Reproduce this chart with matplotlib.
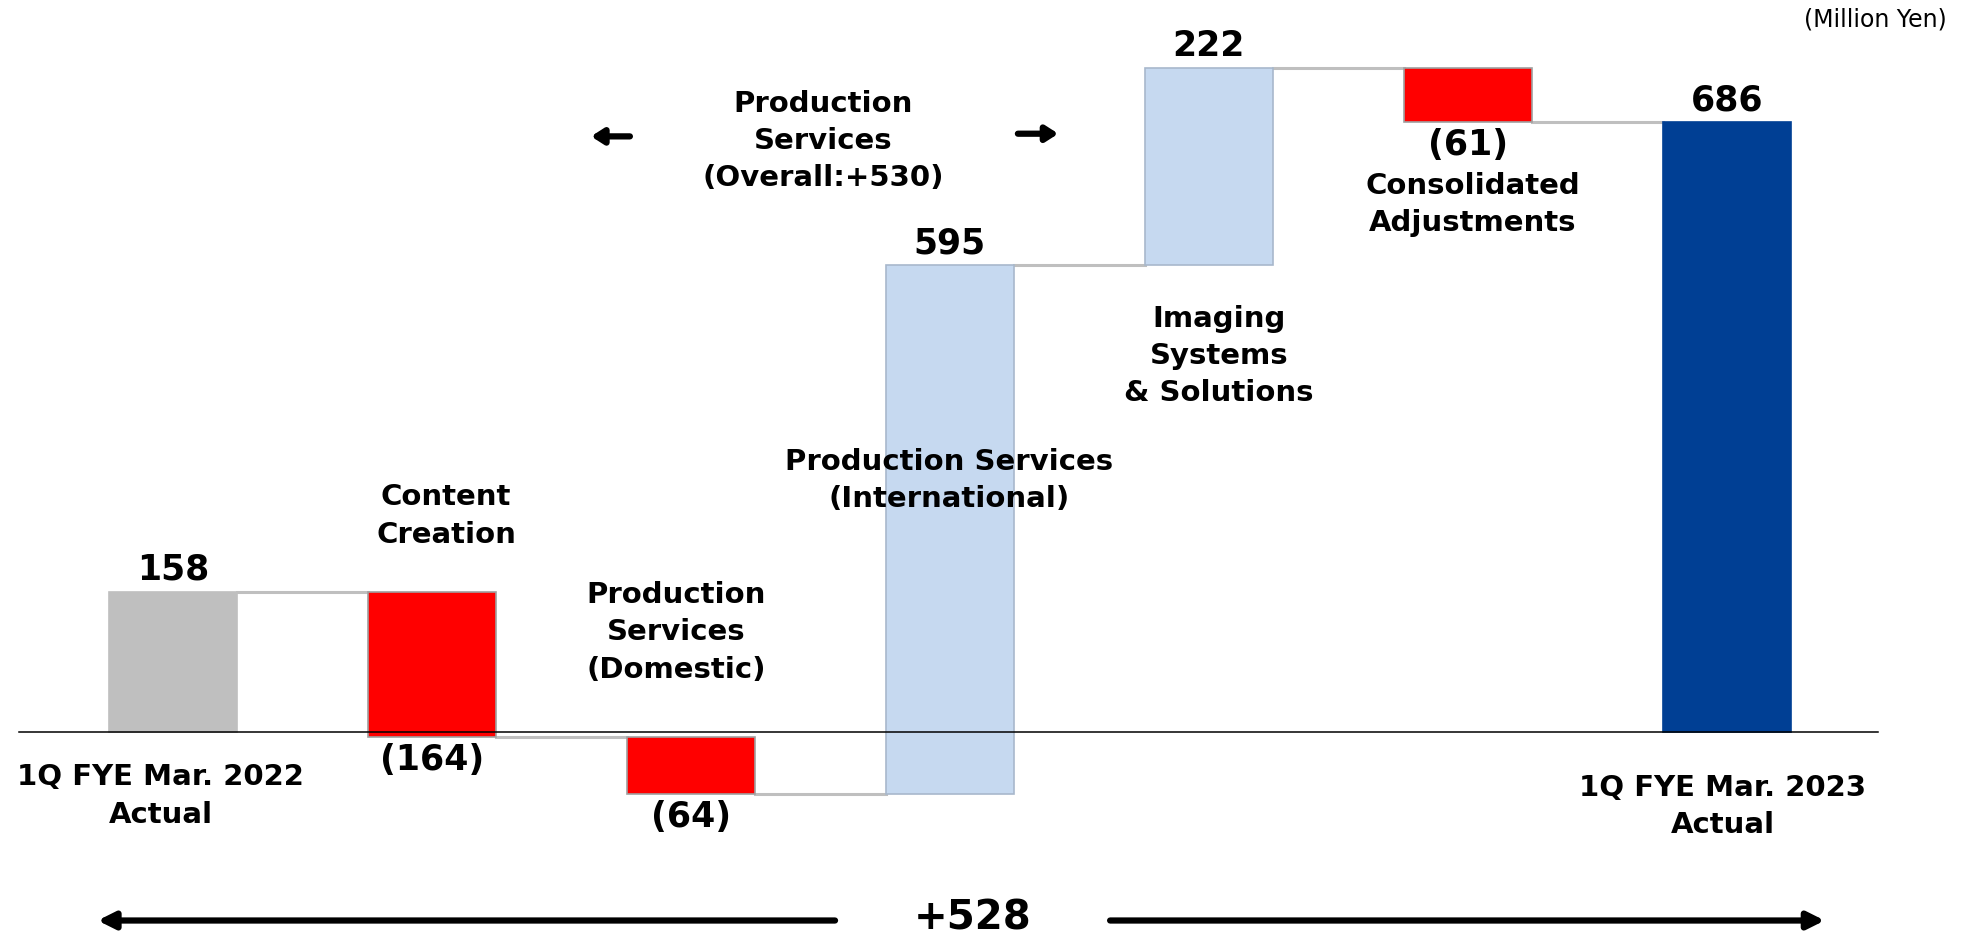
import matplotlib
matplotlib.use("Agg")
import matplotlib.pyplot as plt
import numpy as np

plt.rcParams["font.family"] = ["DejaVu Sans"]

# --- data ---
categories = [
    "1Q FYE Mar. 2022\nActual",
    "Content\nCreation",
    "Production\nServices\n(Domestic)",
    "Production Services\n(International)",
    "Imaging\nSystems\n& Solutions",
    "Consolidated\nAdjustments",
    "1Q FYE Mar. 2023\nActual",
]
values = [158, -164, -64, 595, 222, -61, 686]
value_labels = ["158", "(164)", "(64)", "595", "222", "(61)", "686"]
is_total = [True, False, False, False, False, False, True]
group_label = "Production\nServices\n(Overall:+530)"
total_change_label = "+528"
unit_label = "(Million Yen)"

# --- colours ---
START_COLOR = "#bfbfbf"
END_COLOR = "#003f94"
NEG_COLOR = "#ff0000"
POS_COLOR = "#c6d9f0"

# running totals -> bottoms / heights
bottoms, heights, colors, edges = [], [], [], []
running = 0
for i, v in enumerate(values):
    if is_total[i]:
        bottoms.append(0)
        heights.append(v)
        running = v
        colors.append(START_COLOR if i == 0 else END_COLOR)
        edges.append(colors[-1])
    else:
        bottoms.append(running + min(v, 0))
        heights.append(abs(v))
        running += v
        colors.append(NEG_COLOR if v < 0 else POS_COLOR)
        edges.append("#a0a0a0" if v < 0 else "#a8b8cc")
levels = np.cumsum([values[0]] + values[1:-1])  # level after each step

x = np.arange(len(values))
width = 0.494

fig = plt.figure(figsize=(19.7, 9.35), dpi=100)
ax = fig.add_axes([0, 0, 1, 1])
ax.set_xlim(-0.667, 6.939)
ax.set_ylim(-228.3, 823.4)
ax.axis("off")

ax.bar(x, heights, width=width, bottom=bottoms, color=colors,
       edgecolor=edges, linewidth=1.2, zorder=2)

# connectors between bars
for i in range(len(values) - 1):
    ax.plot([x[i] + width / 2, x[i + 1] - width / 2], [levels[i], levels[i]],
            color="#bfbfbf", lw=2.2, zorder=1)

# baseline
ax.plot([-0.594, 6.584], [0, 0], color="black", lw=1.1, zorder=3)

# value labels
for i, v in enumerate(values):
    top = bottoms[i] + heights[i]
    if v >= 0:
        ax.annotate(value_labels[i], (x[i], top), xytext=(0, 5),
                    textcoords="offset pixels", ha="center", va="bottom",
                    fontsize=25, fontweight="bold")
    else:
        ax.annotate(value_labels[i], (x[i], bottoms[i]), xytext=(0, -6),
                    textcoords="offset pixels", ha="center", va="top",
                    fontsize=25, fontweight="bold")

# category labels (positions picked to mirror the slide layout)
label_pos = [
    (-0.046, -72), (1.055, 243), (1.943, 112), (2.997, 283),
    (4.039, 423), (5.020, 593), (5.985, -84),
]
for (lx, ly), txt in zip(label_pos, categories):
    ax.text(lx, ly, txt, ha="center", va="center", fontsize=21,
            fontweight="bold", linespacing=1.42)

# overall production services bracket
ax.text(2.511, 665, group_label, ha="center", va="center", fontsize=21,
        fontweight="bold", linespacing=1.42)
arrow_kw = dict(arrowstyle="-|>,head_length=0.7,head_width=0.45",
                color="black", lw=4.5, shrinkA=0, shrinkB=0)
ax.annotate("", xy=(1.615, 670), xytext=(1.765, 670), arrowprops=arrow_kw)
ax.annotate("", xy=(3.419, 673), xytext=(3.263, 673), arrowprops=arrow_kw)

# total change arrow
big_arrow = dict(arrowstyle="-|>,head_length=1.0,head_width=0.5",
                 color="black", lw=4.5, shrinkA=0, shrinkB=0)
ax.annotate("", xy=(-0.29, -212), xytext=(2.557, -212), arrowprops=big_arrow)
ax.annotate("", xy=(6.378, -212), xytext=(3.619, -212), arrowprops=big_arrow)
ax.text(3.09, -210, total_change_label, ha="center", va="center",
        fontsize=29, fontweight="bold")

# unit
ax.text(0.988, 0.992, unit_label, transform=fig.transFigure, ha="right",
        va="top", fontsize=17)

fig.savefig("out.png", dpi=100)
